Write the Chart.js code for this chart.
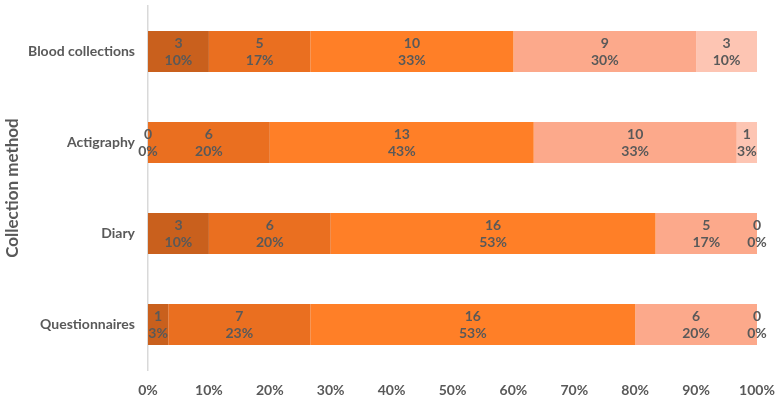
<!DOCTYPE html>
<html><head><meta charset="utf-8">
<script src="https://cdn.jsdelivr.net/npm/chart.js@4/dist/chart.umd.min.js"></script>
<style>html,body{margin:0;padding:0;background:#fff}#w{width:779px;height:400px}</style>
</head><body><div id="w"><canvas id="c"></canvas></div>
<script>
const categories = ["Blood collections", "Actigraphy", "Diary", "Questionnaires"];
const level1 = [3, 0, 3, 1];
const level2 = [5, 6, 6, 7];
const level3 = [10, 13, 16, 16];
const level4 = [9, 10, 5, 6];
const level5 = [3, 1, 0, 0];
const xTickLabels = ["0%","10%","20%","30%","40%","50%","60%","70%","80%","90%","100%"];

const series = [level1, level2, level3, level4, level5];
const colors = ["#C9601D", "#EA6F20", "#FF7F27", "#FCA98B", "#FDC5B3"];
const totals = categories.map((_, i) => series.reduce((s, a) => s + a[i], 0));
const FONT = "Lato, 'Open Sans', sans-serif";
const GREY = "#595959";

const labelPlugin = {
  id: "segLabels",
  afterDatasetsDraw(chart) {
    const ctx = chart.ctx;
    ctx.save();
    ctx.fillStyle = GREY;
    ctx.font = "bold 14px " + FONT;
    ctx.textAlign = "center";
    ctx.textBaseline = "middle";
    chart.data.datasets.forEach((ds, di) => {
      const meta = chart.getDatasetMeta(di);
      meta.data.forEach((bar, i) => {
        const cnt = ds.counts[i];
        const pct = Math.round(cnt / totals[i] * 100) + "%";
        const cx = (bar.x + bar.base) / 2;
        ctx.fillText(String(cnt), cx, bar.y - 8);
        ctx.fillText(pct, cx, bar.y + 9);
      });
    });
    ctx.restore();
  }
};

new Chart(document.getElementById("c"), {
  type: "bar",
  data: {
    labels: categories,
    datasets: series.map((arr, k) => ({
      label: "L" + (k + 1),
      counts: arr,
      data: arr.map((v, i) => v / totals[i] * 100),
      backgroundColor: colors[k],
      borderWidth: 0,
      barPercentage: 1,
      categoryPercentage: 0.45
    }))
  },
  options: {
    indexAxis: "y",
    responsive: true,
    maintainAspectRatio: false,
    animation: false,
    layout: { padding: { left: 0, right: 22, top: 6, bottom: 0 } },
    plugins: { legend: { display: false }, tooltip: { enabled: false } },
    scales: {
      x: {
        stacked: true, min: 0, max: 100,
        grid: { display: false, drawTicks: false },
        border: { display: false },
        ticks: {
          stepSize: 10, padding: 12,
          color: GREY, font: { family: FONT, size: 14, weight: "bold" },
          callback: (v, i) => xTickLabels[i]
        },
        afterFit: s => { s.height = 30; s.paddingLeft = 0; s.paddingRight = 0; }
      },
      y: {
        stacked: true,
        grid: { display: false, drawTicks: false },
        border: { display: true, color: "#D9D9D9", width: 1.5 },
        ticks: { padding: 13, color: GREY, font: { family: FONT, size: 14, weight: "bold" } },
        title: { display: true, text: "Collection method", color: GREY, font: { family: FONT, size: 17, weight: "bold" }, padding: { top: 2, bottom: 0 } },
        afterFit: s => { s.width = 148; s.paddingTop = 0; s.paddingBottom = 0; }
      }
    }
  },
  plugins: [labelPlugin]
});
</script></body></html>
